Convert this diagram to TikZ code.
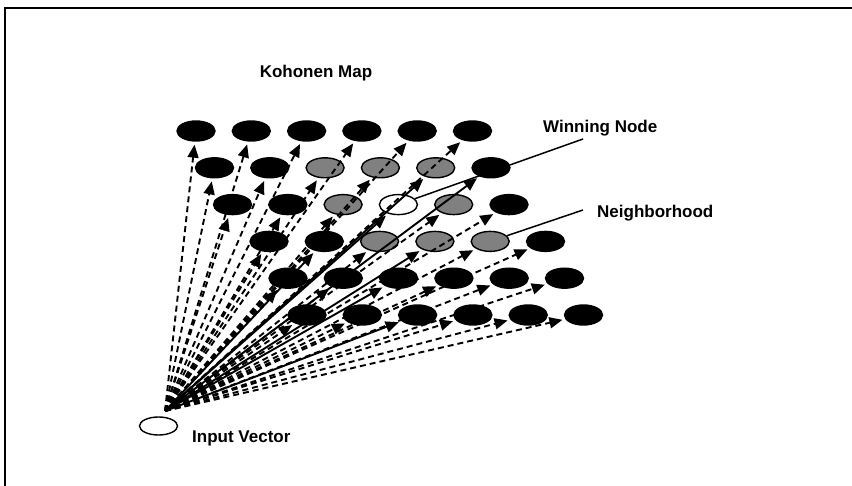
\documentclass[tikz,border=0pt]{standalone}
\usepackage{fontspec}
\setmainfont{Liberation Sans}
\usetikzlibrary{shapes.geometric,arrows.meta}
\begin{document}
\begin{tikzpicture}[x=1pt,y=-1pt,
  unit/.style={ellipse,draw=black,line width=1.4pt,minimum width=38pt,minimum height=20pt,inner sep=0pt,fill=black},
  lbl/.style={font=\bfseries\fontsize{17}{20}\selectfont,inner sep=0pt},
  link/.style={line width=1.9pt,-{Triangle[length=13pt,width=11pt]},shorten >=3pt,dash pattern=on 6pt off 4pt},
  lead/.style={line width=1.5pt},
  % neighbourhood of the winner
  cell 1-2/.style={fill=gray}, cell 1-3/.style={fill=gray}, cell 1-4/.style={fill=gray},
  cell 2-2/.style={fill=gray}, cell 2-3/.style={fill=white}, cell 2-4/.style={fill=gray},
  cell 3-2/.style={fill=gray}, cell 3-3/.style={fill=gray}, cell 3-4/.style={fill=gray},
  % weight connections drawn solid
  arr 2-3/.style={solid}, arr 1-4/.style={solid}, arr 1-5/.style={solid},
  arr 3-3/.style={solid}, arr 4-2/.style={solid}, arr 3-1/.style={solid},
  arr 5-2/.style={solid}]
\useasboundingbox (0,0) rectangle (852,486);

% frame
\draw[line width=2.6pt] (5,486) -- (5,8) -- (852,8);

% Kohonen map units
\foreach \r/\xo in {0/196,1/214.5,2/232.5,3/269,4/288,5/307}{
  \foreach \c in {0,...,5}{
    \pgfmathsetmacro\xx{\xo+55.3*\c}
    \pgfmathsetmacro\yy{131+36.8*\r}
    \node[unit, cell \r-\c/.try] (n\r\c) at (\xx,\yy) {};
  }
}

% input vector
\node[unit,fill=white,minimum height=18pt] (in) at (158.5,426) {};
\coordinate (src) at (165,411);

% connections from the input to every unit
\foreach \r in {0,...,5}{
  \foreach \c in {0,...,5}{
    \draw[link, arr \r-\c/.try] (src) -- (n\r\c);
  }
}

% labels
\node[lbl] (title) at (316,73) {Kohonen Map};
\node[lbl,anchor=west] (win) at (543,128) {Winning Node};
\node[lbl,anchor=west] (nbh) at (597,213) {Neighborhood};
\node[lbl,anchor=west] (inp) at (192,438) {Input Vector};

\coordinate (winend) at (583,139);
\coordinate (nbhend) at (583,210);
\draw[lead] (winend) -- (n23);
\draw[lead] (nbhend) -- (n34);
\end{tikzpicture}
\end{document}
